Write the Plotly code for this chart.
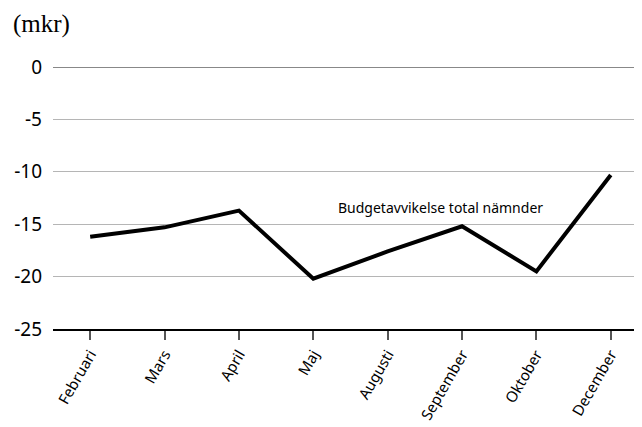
import plotly.graph_objects as go

months = ["Februari", "Mars", "April", "Maj", "Augusti", "September", "Oktober", "December"]
values = [-16.2, -15.3, -13.7, -20.2, -17.6, -15.2, -19.5, -10.3]
series_name = "Budgetavvikelse total nämnder"
y_ticks = [0, -5, -10, -15, -20, -25]

fig = go.Figure()
fig.add_trace(go.Scatter(
    x=months, y=values, mode="lines", name=series_name,
    line=dict(color="black", width=4), showlegend=False,
))

fig.add_annotation(
    x=4.71, y=-13.4, xref="x", yref="y", text=series_name, showarrow=False,
    font=dict(family="Noto Sans", size=14, color="black"),
)
fig.add_annotation(
    x=-0.0696, y=1.164, xref="paper", yref="paper", text="(mkr)", showarrow=False,
    xanchor="left", yanchor="middle", borderpad=0,
    font=dict(family="Liberation Serif", size=25, color="black"),
)

# page body has an 8px default margin, so the figure is sized to fit the window
fig.update_layout(
    width=634, height=419,
    margin=dict(l=45, r=0, t=59, b=98),
    paper_bgcolor="white", plot_bgcolor="white",
    font=dict(family="Noto Sans", color="black"),
)
fig.update_xaxes(
    type="category", range=[-0.5, 7.42], automargin=False,
    tickangle=-60, tickfont=dict(size=15, family="Noto Sans"),
    ticks="outside", ticklen=9, tickwidth=1.5, tickcolor="#555",
    showline=True, linecolor="black", linewidth=1.5,
    showgrid=False,
)
fig.update_yaxes(
    range=[-25, 0], tickvals=y_ticks, ticktext=[str(v) for v in y_ticks],
    automargin=False,
    tickfont=dict(size=19, family="Noto Sans"),
    showgrid=True, gridcolor="#b5b5b5", gridwidth=1,
    zeroline=True, zerolinecolor="#888", zerolinewidth=1.2,
    ticks="", ticklabelstandoff=10,
)

fig.write_html("out.html")
